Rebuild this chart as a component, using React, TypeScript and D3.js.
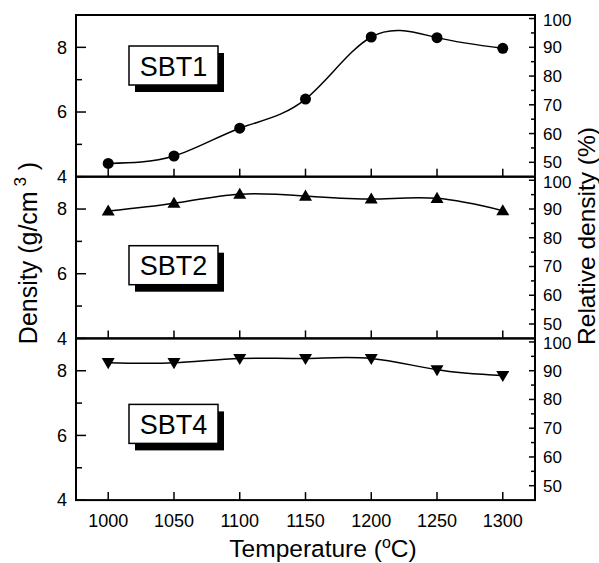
import React from 'react';
import * as d3 from 'd3';

const temps = [1000, 1050, 1100, 1150, 1200, 1250, 1300];
const sbt1 = [4.41, 4.64, 5.5, 6.4, 8.32, 8.3, 7.97];
const sbt2 = [7.94, 8.18, 8.46, 8.4, 8.31, 8.33, 7.95];
const sbt4 = [8.25, 8.25, 8.38, 8.38, 8.38, 8.03, 7.85];
const panelNames = ['SBT1', 'SBT2', 'SBT4'];
const leftTicks = [4, 6, 8];
const leftMinor = [5, 7];
const rightTicks = [50, 60, 70, 80, 90, 100];
const rightMinor = [55, 65, 75, 85, 95];
const theoretical = 8.89; // g/cm3 at 100 %

const W = 599, H = 563;
const left = 76, right = 535;
const top0 = 15, panelH = 161.7;
const boxOffsets = [31, 69, 66];
const font = '"Liberation Sans", Arial, Helvetica, sans-serif';

const App = () => {
  const x = d3.scaleLinear().domain([975.5, 1324.5]).range([left, right]);
  const series = [sbt1, sbt2, sbt4];
  const markers = ['circle', 'up', 'down'];

  return (
    <svg width={W} height={H} style={{ position: 'absolute', left: 0, top: 0 }}>
      <rect width={W} height={H} fill="#fff" />
      {series.map((vals, i) => {
        const pTop = top0 + i * panelH;
        const pBot = pTop + panelH;
        const y = d3.scaleLinear().domain([4, 9]).range([pBot, pTop]);
        const yr = d3.scaleLinear().domain([4 / theoretical * 100, 9 / theoretical * 100]).range([pBot, pTop]);
        const line = d3.line<number>()
          .x((_, j) => x(temps[j]))
          .y(d => y(d))
          .curve(d3.curveNatural);
        const boxY = pTop + boxOffsets[i];
        return (
          <g key={i}>
            <path d={line(vals) || ''} fill="none" stroke="#000" strokeWidth={1.5} />
            {vals.map((v, j) => {
              const cx = x(temps[j]);
              const cy = y(v);
              if (markers[i] === 'circle') return <circle key={j} cx={cx} cy={cy} r={5.5} fill="#000" />;
              const s = 6.5;
              const pts = markers[i] === 'up'
                ? `${cx},${cy - s} ${cx - s},${cy + s * 0.7} ${cx + s},${cy + s * 0.7}`
                : `${cx},${cy + s} ${cx - s},${cy - s * 0.7} ${cx + s},${cy - s * 0.7}`;
              return <polygon key={j} points={pts} fill="#000" />;
            })}
            {temps.map(t => (
              <line key={t} x1={x(t)} x2={x(t)} y1={pBot} y2={pBot - 8} stroke="#000" strokeWidth={1.5} />
            ))}
            {leftTicks.map(t => (
              <g key={t}>
                <line x1={left} x2={left + 10} y1={y(t)} y2={y(t)} stroke="#000" strokeWidth={1.5} />
                <text x={67} y={y(t)} dy="0.35em" textAnchor="end" fontSize={18} fontFamily={font}>{t}</text>
              </g>
            ))}
            {leftMinor.map(t => (
              <line key={t} x1={left} x2={left + 6} y1={y(t)} y2={y(t)} stroke="#000" strokeWidth={1.5} />
            ))}
            {rightTicks.map(t => (
              <g key={t}>
                <line x1={right - 6} x2={right + 1} y1={yr(t)} y2={yr(t)} stroke="#000" strokeWidth={1.5} />
                <text x={543} y={yr(t) + (t === 100 ? 1.5 : 0)} dy="0.35em" fontSize={17} fontFamily={font}>{t}</text>
              </g>
            ))}
            {rightMinor.map(t => (
              <line key={t} x1={right - 4} x2={right} y1={yr(t)} y2={yr(t)} stroke="#000" strokeWidth={1.5} />
            ))}
            <rect x={135} y={boxY + 7} width={89} height={39} fill="#000" />
            <rect x={129} y={boxY} width={89} height={39} fill="#fff" stroke="#000" strokeWidth={1.5} />
            <text x={173.5} y={boxY + 20} dy="0.36em" textAnchor="middle" fontSize={27} fontFamily={font}>{panelNames[i]}</text>
            <rect x={left} y={pTop} width={right - left} height={panelH} fill="none" stroke="#000" strokeWidth={2} />
          </g>
        );
      })}
      {temps.map(t => (
        <text key={t} x={x(t)} y={527} textAnchor="middle" fontSize={18} fontFamily={font}>{t}</text>
      ))}
      <text x={323} y={557} textAnchor="middle" fontSize={24.5} fontFamily={font}>
        Temperature  (<tspan dy={-9} fontSize={16}>o</tspan><tspan dy={9}>C)</tspan>
      </text>
      <text transform="translate(37,253) rotate(-90)" textAnchor="middle" fontSize={25} fontFamily={font}>
        Density (g/cm<tspan dy={-11} fontSize={17}> 3</tspan><tspan dy={11}> )</tspan>
      </text>
      <text transform="translate(595,236) rotate(-90)" textAnchor="middle" fontSize={24.5} fontFamily={font}>
        Relative density  (%)
      </text>
    </svg>
  );
};

export default App;
